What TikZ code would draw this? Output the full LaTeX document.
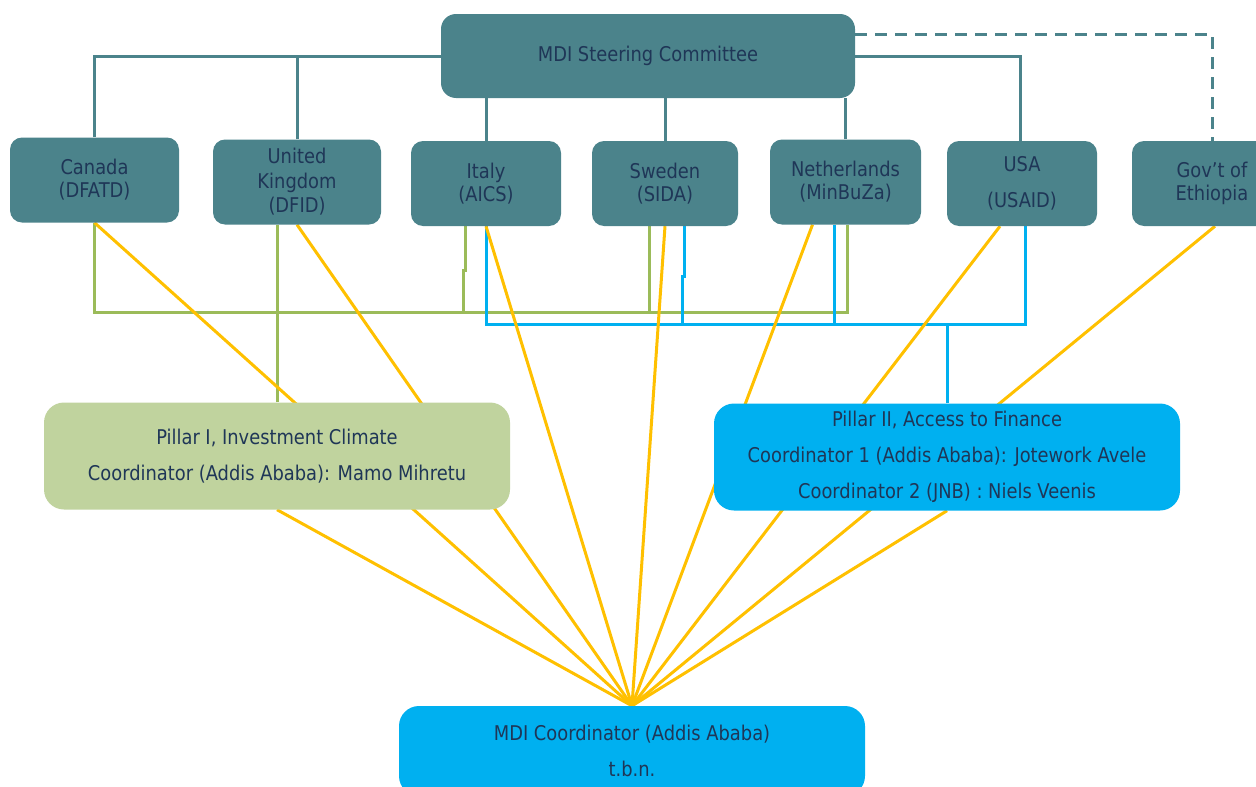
\documentclass[tikz,border=0pt]{standalone}
\usepackage{fontspec}
\setmainfont{DejaVu Sans}[FakeStretch=0.88]
\pgfdeclarelayer{bg}
\pgfsetlayers{bg,main}
\definecolor{scfill}{HTML}{4B838B}
\definecolor{navytext}{HTML}{1F3657}
\definecolor{pgreen}{HTML}{C0D39E}
\definecolor{pblue}{HTML}{00B0F0}
\definecolor{lgreen}{HTML}{9BBB59}
\definecolor{lyellow}{HTML}{FFC000}
\begin{document}
\begin{tikzpicture}[x=1pt,y=-1pt,
  txt/.style={text=navytext,align=center,inner sep=0pt,font=\fontsize{20.3}{23}\selectfont},
  donor/.style={txt,rectangle,rounded corners=12pt,fill=scfill,minimum height=85pt},
  pillar/.style={txt,rectangle,rounded corners=20pt,minimum width=466pt,minimum height=107pt},
  tl/.style={draw=scfill,line width=3pt},
  gl/.style={draw=lgreen,line width=3pt},
  bl/.style={draw=pblue,line width=3pt},
  yl/.style={draw=lyellow,line width=3pt}]
\useasboundingbox (0,0) rectangle (1256,787);

\node[donor,rounded corners=15pt,minimum width=414pt,minimum height=84pt] (sc) at (648,56) {MDI Steering Committee};
\node[donor,minimum width=169pt] (ca) at (94.5,180) {Canada\\(DFATD)};
\node[donor,minimum width=168pt,font=\fontsize{20.3}{24.5}\selectfont] (uk) at (297,182) {United\\Kingdom\\(DFID)};
\node[donor,minimum width=150pt] (it) at (486,183.5) {Italy\\(AICS)};
\node[donor,minimum width=146pt] (sw) at (665,183.5) {Sweden\\(SIDA)};
\node[donor,minimum width=151pt] (nl) at (845.5,182) {Netherlands\\(MinBuZa)};
\node[donor,minimum width=150pt] (us) at (1022,183.5) {USA\\[13pt](USAID)};
\node[donor,minimum width=160pt] (gv) at (1212,183.5) {Gov’t of\\Ethiopia};

\node[pillar,fill=pgreen] (p1) at (277,456) {Pillar I, Investment Climate\\[13pt]Coordinator (Addis Ababa): Mamo Mihretu};
\node[pillar,fill=pblue] (p2) at (947,457) {Pillar II, Access to Finance\\[13pt]Coordinator 1 (Addis Ababa): Jotework Avele\\[13pt]Coordinator 2 (JNB) : Niels Veenis};
\node[pillar,fill=pblue,minimum height=90pt] (mdi) at (632,751) {MDI Coordinator (Addis Ababa)\\[13pt]t.b.n.};

\coordinate (gy) at (0,312);
\coordinate (by) at (0,324);

\begin{pgfonlayer}{bg}
% steering committee tree
\draw[tl] (ca.north) |- (sc.west);
\draw[tl] (uk.north) -- (uk.north |- sc.west);
\draw[tl] (it.north) -- (it.north |- sc.south);
\draw[tl] (sw.north) -- (sw.north |- sc.south);
\draw[tl] (nl.north) -- (nl.north |- sc.south);
\draw[tl] ([xshift=-2pt]us.north) |- (sc.east);
\draw[tl,dash pattern=on 12pt off 8pt] ([yshift=22pt]sc.east) -| (gv.north);
% green (Pillar I)
\draw[gl] (ca.south) -- (ca.south |- gy) -- ([xshift=1.5pt]nl.south |- gy) -- ([xshift=1.5pt]nl.south);
\draw[gl] (p1.north) -- (p1.north |- uk.south);
\draw[gl] ([xshift=-21pt]it.south) -- ++(0,44) -- ++(-2,0) -- ++(0,43);
\draw[gl] ([xshift=-16pt]sw.south) -- ([xshift=-16pt]sw.south |- gy);
% blue (Pillar II)
\draw[bl] (it.south) -- (it.south |- by) -- ([xshift=3pt]us.south |- by) -- ([xshift=3pt]us.south);
\draw[bl] ([xshift=19pt]sw.south) -- ++(0,50) -- ++(-2,0) -- ++(0,49);
\draw[bl] ([xshift=-11pt]nl.south) -- ([xshift=-11pt]nl.south |- by);
\draw[bl] (p2.north) -- (p2.north |- by);
% yellow (MDI coordinator)
\draw[yl] (ca.south) -- (mdi.north);
\draw[yl] (uk.south) -- (mdi.north);
\draw[yl] (it.south) -- (mdi.north);
\draw[yl] (sw.south) -- (mdi.north);
\draw[yl] ([xshift=-33pt]nl.south) -- (mdi.north);
\draw[yl] ([xshift=-22pt]us.south) -- (mdi.north);
\draw[yl] ([xshift=3pt]gv.south) -- (mdi.north);
\draw[yl] (p1.south) -- (mdi.north);
\draw[yl] (p2.south) -- (mdi.north);
\end{pgfonlayer}
\end{tikzpicture}
\end{document}
